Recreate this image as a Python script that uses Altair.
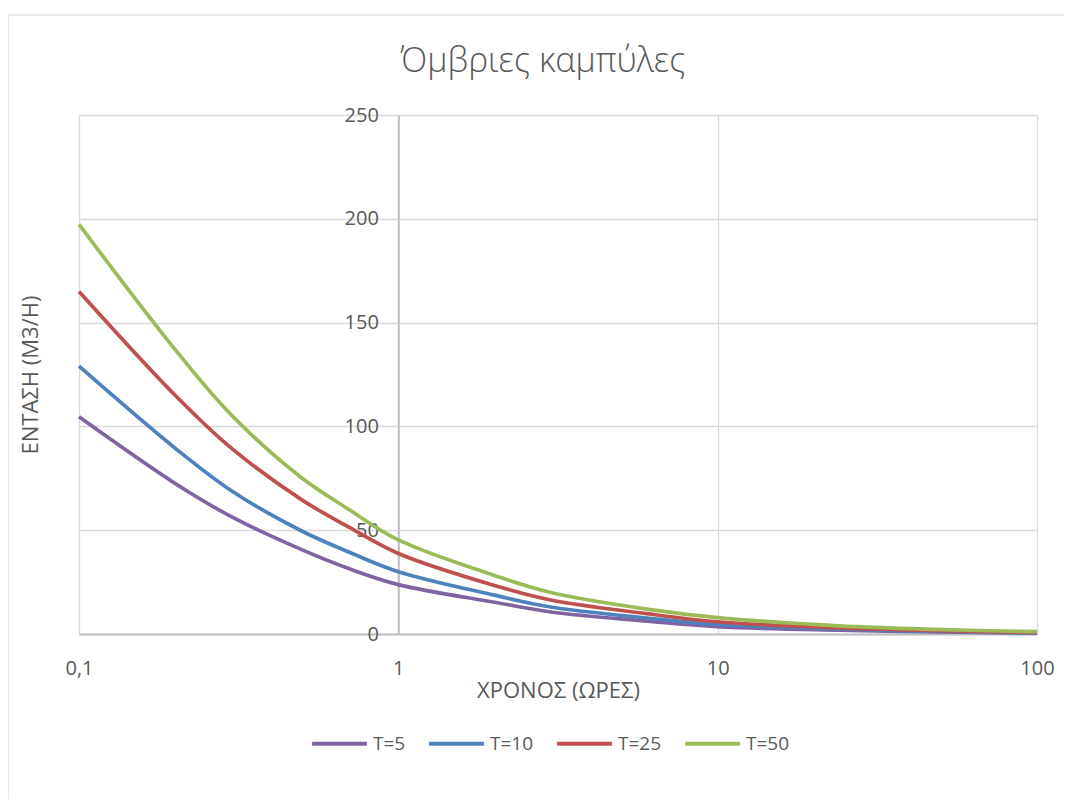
import altair as alt
import pandas as pd

# Durations (hours) and rainfall intensity
durations = [0.1, 0.2, 0.3, 0.5, 0.7, 1, 2, 3, 6, 10, 24, 48, 100]
t5 = [104.6, 72.5, 56.5, 40.5, 31.5, 23.8, 15.3, 10.6, 6.2, 3.5, 1.8, 1.0, 0.45]
t10 = [129, 89.5, 69, 49.5, 39.5, 30, 18.7, 13.0, 7.7, 4.6, 2.4, 1.3, 0.6]
t25 = [165, 115, 89.5, 64.5, 51.5, 38.8, 23.4, 16.4, 9.8, 5.9, 2.9, 1.6, 0.8]
t50 = [197.3, 137, 105.5, 75, 60, 45.3, 28.2, 20.0, 12.0, 7.9, 3.9, 2.2, 1.1]

series_names = ["T=5", "T=10", "T=25", "T=50"]
series_colors = ["#8064A2", "#4F81BD", "#C0504D", "#9BBB59"]
x_ticks = [0.1, 1, 10, 100]
y_ticks = [0, 50, 100, 150, 200, 250]
chart_title = ["Όμβριες καμπύλες"]

rows = []
for name, vals in zip(series_names, [t5, t10, t25, t50]):
    for t, v in zip(durations, vals):
        rows.append({"t": t, "v": v, "series": name})
df = pd.DataFrame(rows)

W = 958
H = 519
FONT = "Open Sans"
TXT = "#595959"

lines = alt.Chart(df).mark_line(strokeWidth=3.7, interpolate="catmull-rom").encode(
    x=alt.X(
        "t:Q",
        scale=alt.Scale(type="log", domain=[0.1, 100], nice=False),
        axis=alt.Axis(
            values=x_ticks,
            labelExpr="datum.value < 1 ? '0,1' : format(datum.value, 'd')",
            title="ΧΡΟΝΟΣ (ΩΡΕΣ)",
            grid=True,
            gridColor="#D9D9D9",
            gridWidth=1.3,
            domainColor="#BFBFBF",
            domainWidth=2,
            ticks=False,
            labelFlush=False,
            labelPadding=24,
            labelFontSize=20,
            labelColor=TXT,
            labelFont=FONT,
            labelFontWeight="normal",
            titleFontSize=22,
            titleColor=TXT,
            titleFont=FONT,
            titleFontWeight="normal",
            titlePadding=2,
        ),
    ),
    y=alt.Y(
        "v:Q",
        scale=alt.Scale(domain=[0, 250], nice=False),
        axis=alt.Axis(
            values=y_ticks,
            offset=-W / 3,
            title="ΕΝΤΑΣΗ (Μ3/Η)",
            titleX=-368,
            titleY=H / 2,
            titleAngle=-90,
            titleAlign="center",
            titleBaseline="middle",
            grid=True,
            gridColor="#D9D9D9",
            gridWidth=1.3,
            domainColor="#BFBFBF",
            domainWidth=2,
            ticks=False,
            labelFlush=False,
            labelPadding=20,
            labelFontSize=20,
            labelColor=TXT,
            labelFont=FONT,
            titleFontSize=22,
            titleColor=TXT,
            titleFont=FONT,
            titleFontWeight="normal",
        ),
    ),
    color=alt.Color(
        "series:N",
        scale=alt.Scale(domain=series_names, range=series_colors),
        sort=series_names,
        legend=alt.Legend(
            title=None,
            orient="none",
            legendX=231,
            legendY=599,
            direction="horizontal",
            symbolType="stroke",
            symbolSize=3000,
            symbolStrokeWidth=4,
            labelFontSize=19,
            labelColor=TXT,
            labelFont=FONT,
            columnPadding=15,
        ),
    ),
)

border = alt.Chart(pd.DataFrame({"a": [0]})).mark_rect(
    fill="transparent", stroke="#D9D9D9", strokeWidth=1.2
).encode(
    x=alt.value(-71),
    x2=alt.value(W + 60),
    y=alt.value(-100),
    y2=alt.value(H + 300),
)

title = alt.Chart(pd.DataFrame({"title": chart_title})).mark_text(
    font=FONT,
    fontSize=34,
    fontWeight=300,
    color=TXT,
    align="center",
    baseline="alphabetic",
).encode(
    text="title:N",
    x=alt.value(464),
    y=alt.value(-43),
)

chart = alt.layer(border, lines, title).properties(
    width=W,
    height=H,
    autosize=alt.AutoSizeParams(type="none"),
    padding={"left": 71, "top": 107, "right": 27, "bottom": 165},
    background="white",
).configure_view(strokeWidth=0)

chart.save("out.html", embed_options={"renderer": "svg", "actions": False})
